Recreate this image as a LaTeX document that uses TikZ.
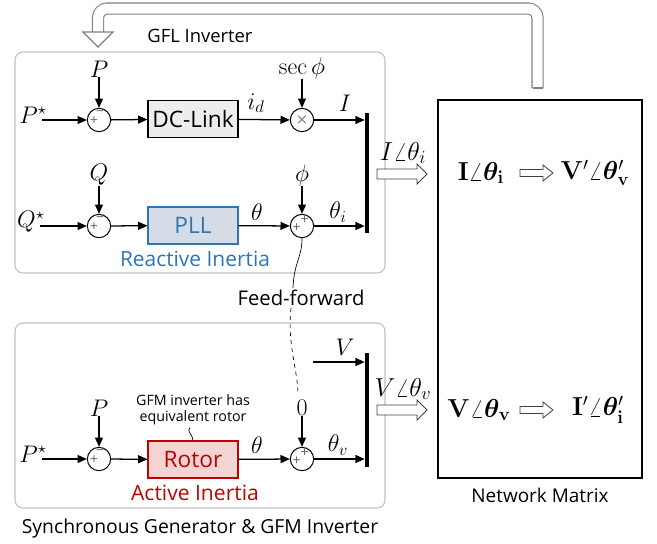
\RequirePackage{fix-cm}
\documentclass[tikz,border=0pt]{standalone}
\usepackage{amsmath,bm}
\usepackage[no-math]{fontspec}
\setmainfont{Open Sans}
\newfontfamily\signfont{DejaVu Sans}
\usetikzlibrary{arrows.meta,calc}
\definecolor{grpgray}{HTML}{BFBFBF}
\definecolor{dcfill}{HTML}{EDEDED}
\definecolor{pllfill}{HTML}{D6DCE5}
\definecolor{pllblue}{HTML}{2E75B6}
\definecolor{rotfill}{HTML}{F2D4D4}
\definecolor{rotred}{HTML}{C00000}
\definecolor{fbgray}{HTML}{808080}
\newcommand{\hollowarr}[5]{%
  \draw[hol] (#1,#3-#4) -- (#2-10,#3-#4) -- (#2-10,#3-#5) -- (#2,#3) -- (#2-10,#3+#5) -- (#2-10,#3+#4) -- (#1,#3+#4) -- cycle;}
\begin{document}
\begin{tikzpicture}[x=0.75pt,y=-0.75pt,
  sig/.style={-{Triangle[length=7pt,width=6pt]}, line width=0.95pt},
  sumc/.style={circle, draw, line width=0.75pt, minimum size=17.5pt, inner sep=0pt},
  sgn/.style={inner sep=0pt, text=black!65, font=\signfont\fontsize{8}{8}\selectfont},
  mth/.style={inner sep=0pt, font=\fontsize{18}{20}\selectfont},
  bmth/.style={inner sep=0pt, font=\fontsize{19.5}{22}\selectfont},
  sans/.style={inner sep=0pt, font=\fontsize{#1}{#1}\selectfont},
  blk/.style={draw, line width=0.8pt, minimum width=67.5pt, minimum height=28pt, inner sep=0pt, font=\fontsize{17}{17}\selectfont},
  barn/.style={fill=black, inner sep=0pt, minimum width=3pt},
  grp/.style={draw=grpgray, line width=0.8pt, rounded corners=6pt},
  hol/.style={draw=black!75, fill=white, line width=0.6pt}]
\useasboundingbox (0,0) rectangle (657,543);

% group frames
\draw[grp] (15,52) rectangle (385,273);
\draw[grp] (15,323) rectangle (385,508);
\node[sans=13.8] (gfl) at (200,36) {GFL Inverter};
\node[sans=14.5] (sgl) at (200,528) {Synchronous Generator \& GFM Inverter};

% network matrix
\node[draw, line width=0.8pt, minimum width=153pt, minimum height=283.5pt, inner sep=0pt] (net) at (540,289) {};
\node[sans=14.2] (netlab) at (540,495) {Network Matrix};

% feedback hollow arrow
\draw[draw=fbgray, double=white, double distance=7.5pt, line width=0.8pt, rounded corners=7pt]
  (537.5,88) -- (537.5,8.5) -- (98,8.5) -- (98,33);
\draw[draw=fbgray, line width=0.8pt] (532.5,88) -- (542.5,88);
\draw[draw=fbgray, fill=white, line width=0.8pt, line join=miter] (83,32) -- (113,32) -- (98,47) -- cycle;

% ---------- row 1 ----------
\node[mth] (Ps1) at (33,115) {$P^\star$};
\node[sumc] (s1) at (99,120) {};
\node[sgn] at ($(s1)+(1,-7)$) {−};
\node[sgn] at ($(s1)+(-5,0)$) {+};
\node[mth] (P1) at (99,69) {$P$};
\node[blk, fill=dcfill] (dc) at (193,119) {DC-Link};
\node[sumc] (m1) at (302,120) {};
\node[sgn, text=black!50, font=\signfont\fontsize{11}{11}\selectfont] at (m1) {×};
\node[mth] (sec) at (302,68) {$\sec\phi$};
\node[mth] (idl) at (256,103) {$i_d$};
\node[mth] (Il) at (345,103) {$I$};
\node[barn, minimum height=90pt] (bar1) at (367,173) {};
\draw[sig] ([xshift=-4pt]Ps1.east |- s1) -- (s1);
\draw[sig] (P1) -- (s1);
\draw[sig] (s1) -- (dc);
\draw[sig] (dc) -- (m1);
\draw[sig] (sec) -- (m1);
\draw[sig] (m1) -- (m1 -| bar1.west);

% ---------- row 2 ----------
\node[mth] (Qs) at (31,222) {$Q^\star$};
\node[sumc] (s2) at (99,226) {};
\node[sgn] at ($(s2)+(1,-7)$) {−};
\node[sgn] at ($(s2)+(-5,0)$) {+};
\node[mth] (Q1) at (99,175) {$Q$};
\node[blk, fill=pllfill, draw=pllblue, text=pllblue, minimum height=27.75pt] (pll) at (193,225.5) {PLL};
\node[sumc] (s3) at (302,226) {};
\node[sgn] at ($(s3)+(2.5,-6.5)$) {+};
\node[sgn] at ($(s3)+(-5.5,1)$) {+};
\node[mth] (phi) at (302,175) {$\phi$};
\node[mth] (th1) at (257,212) {$\theta$};
\node[mth] (thi) at (338,212) {$\theta_i$};
\node[sans=15.7, text=pllblue] (ri) at (195,259) {Reactive Inertia};
\draw[sig] ([xshift=-4pt]Qs.east |- s2) -- (s2);
\draw[sig] (Q1) -- (s2);
\draw[sig] (s2) -- (pll);
\draw[sig] (pll) -- (s3);
\draw[sig] (phi) -- (s3);
\draw[sig] (s3) -- (s3 -| bar1.west);

% feed-forward
\node[sans=15.2] (ff) at (301,298) {Feed-forward};
\draw[line width=0.5pt] (s3.south) .. controls (302,258) and (294,262) .. ($(ff.north)+(-8,-2)$);

% ---------- bottom block ----------
\node[mth] (Vl) at (345,347) {$V$};
\coordinate (vs) at (313,362);
\node[barn, minimum height=85.5pt] (bar2) at (367,410) {};
\draw[sig] (vs) -- (vs -| bar2.west);

\node[mth] (Ps2) at (33,454) {$P^\star$};
\node[sumc] (s4) at (99,459) {};
\node[sgn] at ($(s4)+(1,-7)$) {−};
\node[sgn] at ($(s4)+(-5,0)$) {+};
\node[mth] (P2) at (99,408) {$P$};
\node[blk, fill=rotfill, draw=rotred, text=rotred, minimum height=27.75pt] (rot) at (193,459.5) {Rotor};
\node[sumc] (s5) at (302,459) {};
\node[sgn] at ($(s5)+(2.5,-6.5)$) {+};
\node[sgn] at ($(s5)+(-5.5,1)$) {+};
\node[mth] (zero) at (302,408) {$0$};
\node[mth] (th2) at (257,445) {$\theta$};
\node[mth] (thv) at (338,445) {$\theta_v$};
\node[sans=15.8, text=rotred] (ai) at (195,493) {Active Inertia};
\node[align=center, inner sep=0pt, font=\fontsize{10.7}{12}\selectfont] (note) at (193,410) {GFM inverter has\\equivalent rotor};
\draw[line width=0.5pt] ($(note.south)+(-3,2)$) .. controls (186,432) and (193,434) .. (rot.north);
\draw[sig] ([xshift=-4pt]Ps2.east |- s4) -- (s4);
\draw[sig] (P2) -- (s4);
\draw[sig] (s4) -- (rot);
\draw[sig] (rot) -- (s5);
\draw[sig] (zero) -- (s5);
\draw[sig] (s5) -- (s5 -| bar2.west);

\draw[dashed, line width=0.5pt] ($(ff.south)+(-10,2)$) .. controls (287,345) and (298,370) .. ($(zero.north)+(-4,-5)$);

% ---------- hollow arrows and network contents ----------
\hollowarr{377}{427}{174}{5}{10}
\node[bmth] (Ith) at (403,153) {$I\angle\theta_i$};
\hollowarr{377}{427}{410}{5}{10}
\node[bmth] (Vth) at (403,389) {$V\angle\theta_v$};
\node[bmth] (n1) at (481,173) {$\mathbf{I}\angle\bm{\theta}_{\mathbf{i}}$};
\hollowarr{520}{553}{173}{3.5}{8}
\node[bmth] (n2) at (595,173) {$\mathbf{V}'\angle\bm{\theta}'_{\mathbf{v}}$};
\node[bmth] (n3) at (479,410) {$\mathbf{V}\angle\bm{\theta}_{\mathbf{v}}$};
\hollowarr{520}{553}{410}{3.5}{8}
\node[bmth] (n4) at (598,410) {$\mathbf{I}'\angle\bm{\theta}'_{\mathbf{i}}$};
\end{tikzpicture}
\end{document}
